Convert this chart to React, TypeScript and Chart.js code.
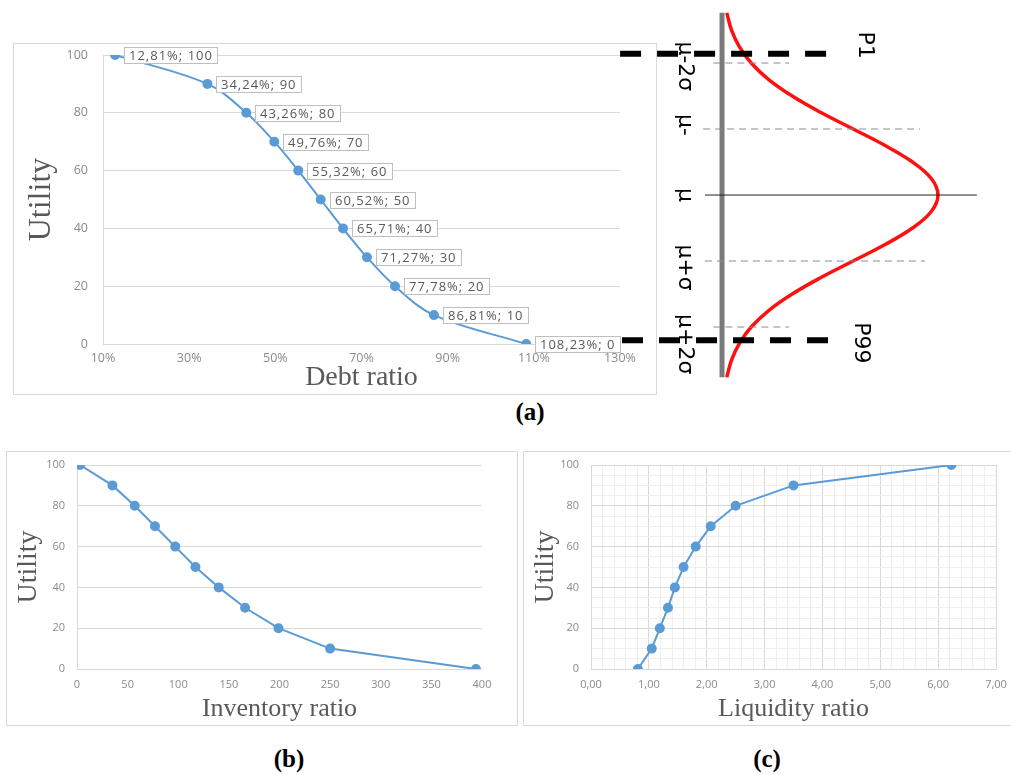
import React, { useEffect, useRef } from 'react';
import { Chart, registerables } from 'chart.js';
Chart.register(...registerables);

// ---------- data ----------
const DEBT_UTILITY = [100, 90, 80, 70, 60, 50, 40, 30, 20, 10, 0];
const DEBT_RATIO = [12.81, 34.24, 43.26, 49.76, 55.32, 60.52, 65.71, 71.27, 77.78, 86.81, 108.23];
const INVENTORY_UTILITY = [100, 90, 80, 70, 60, 50, 40, 30, 20, 10, 0];
const INVENTORY_RATIO = [3, 35, 57, 77, 97, 117, 140, 166, 199, 250, 394];
const LIQUIDITY_UTILITY = [0, 10, 20, 30, 40, 50, 60, 70, 80, 90, 100];
const LIQUIDITY_RATIO = [0.81, 1.05, 1.19, 1.33, 1.45, 1.6, 1.81, 2.07, 2.5, 3.5, 6.23];

// normal curve (position in sigma units, relative density)
const CURVE_Z = [-2.76, -2.5, -2.25, -2, -1.75, -1.5, -1.25, -1, -0.75, -0.5, -0.25, 0, 0.25, 0.5, 0.75, 1, 1.25, 1.5, 1.75, 2, 2.25, 2.5, 2.76];
const CURVE_DENSITY = [0.022, 0.044, 0.08, 0.135, 0.216, 0.325, 0.458, 0.607, 0.755, 0.882, 0.969, 1, 0.969, 0.882, 0.755, 0.607, 0.458, 0.325, 0.216, 0.135, 0.08, 0.044, 0.022];
const AXIS_Z = [-2.76, 2.76];
const REF_Z = [-2, -1, 0, 1, 2];
const REF_X_START = [-0.04, -0.088, -0.079, -0.079, -0.04];
const REF_X_END = [0.31, 0.917, 1.18, 0.94, 0.31];
const PCT_Z = [-2.14, 2.2];
const PCT_X_START = [-0.472, -0.463];
const PCT_X_END = [0.509, 0.523];
const SIGMA_LABELS = ['μ-2σ', 'μ-', 'μ', 'μ+σ', 'μ+2σ'];
const SIGMA_LABEL_Z = [-1.95, -1.06, 0, 1.1, 2.26];
const PCT_LABELS = ['P1', 'P99'];
const PCT_LABEL_Z = [-2.27, 2.24];

const BLUE = '#5b9bd5';
const GRID = '#d9d9d9';
const TICK = '#8a8a8a';
const TITLE = '#595959';
const SANS = '"Open Sans", "Liberation Sans", sans-serif';
const SERIF = '"Liberation Serif", "Times New Roman", serif';

const pts = (xs: number[], ys: number[]) => xs.map((x, i) => ({ x, y: ys[i] }));

const fixY = (w: number) => (s: any) => {
  s.width = w;
  s.paddingTop = 0;
  s.paddingBottom = 0;
  s.paddingLeft = 0;
  s.paddingRight = 0;
};
const fixX = (h: number) => (s: any) => {
  s.height = h;
  s.paddingTop = 0;
  s.paddingBottom = 0;
  s.paddingLeft = 0;
  s.paddingRight = 0;
};

function ChartCanvas({ config, left, top, width, height }: any) {
  const ref = useRef<HTMLCanvasElement>(null);
  useEffect(() => {
    const chart = new Chart(ref.current as HTMLCanvasElement, config());
    return () => chart.destroy();
  }, []);
  return (
    <canvas
      ref={ref}
      width={width}
      height={height}
      style={{ position: 'absolute', left, top, width, height, display: 'block' }}
    />
  );
}

const debtLabelPlugin = {
  id: 'debtLabels',
  afterDatasetsDraw(chart: any) {
    const ctx = chart.ctx;
    const meta = chart.getDatasetMeta(0);
    ctx.save();
    ctx.font = `13px ${SANS}`;
    (ctx as any).letterSpacing = '1px';
    meta.data.forEach((pt: any, i: number) => {
      const text = `${DEBT_RATIO[i].toFixed(2).replace('.', ',')}%; ${DEBT_UTILITY[i]}`;
      const w = Math.round(ctx.measureText(text).width) + 9;
      const x = Math.round(pt.x + 9);
      const y = Math.round(pt.y - 8);
      ctx.fillStyle = '#ffffff';
      ctx.fillRect(x, y, w, 16);
      ctx.strokeStyle = '#bfbfbf';
      ctx.lineWidth = 1;
      ctx.strokeRect(x + 0.5, y + 0.5, w, 16);
      ctx.fillStyle = TITLE;
      ctx.textBaseline = 'middle';
      ctx.textAlign = 'left';
      ctx.fillText(text, x + 5, y + 9);
    });
    ctx.restore();
  },
};

function configA() {
  return {
    type: 'line',
    data: {
      datasets: [
        {
          data: pts(DEBT_RATIO, DEBT_UTILITY),
          borderColor: BLUE,
          backgroundColor: BLUE,
          borderWidth: 2,
          pointRadius: 4,
          pointHoverRadius: 4,
          tension: 0.35,
        },
      ],
    },
    plugins: [debtLabelPlugin],
    options: {
      animation: false,
      responsive: false,
      events: [],
      layout: { padding: { top: 11, right: 36, left: 0, bottom: 0 } },
      plugins: { legend: { display: false }, tooltip: { enabled: false } },
      scales: {
        x: {
          type: 'linear',
          min: 10,
          max: 130,
          afterFit: fixX(50),
          ticks: { stepSize: 20, padding: 7, color: TICK, font: { family: SANS, size: 12.5 }, callback: (v: number) => `${v}%`, maxRotation: 0 },
          grid: { display: false, drawTicks: false },
          border: { display: false },
          title: { display: true, text: 'Debt ratio', color: TITLE, font: { family: SERIF, size: 28 }, padding: { top: 0, bottom: 0 } },
        },
        y: {
          min: 0,
          max: 100,
          afterFit: fixY(89),
          ticks: { stepSize: 20, padding: 15, color: TICK, font: { family: SANS, size: 12.5 } },
          grid: { color: GRID, drawTicks: false },
          border: { display: true, color: GRID },
          title: { display: true, text: 'Utility', color: TITLE, font: { family: SERIF, size: 32 }, padding: { top: 8, bottom: 0 } },
        },
      },
    },
  };
}

function configB() {
  return {
    type: 'line',
    data: {
      datasets: [
        {
          data: pts(INVENTORY_RATIO, INVENTORY_UTILITY),
          borderColor: BLUE,
          backgroundColor: BLUE,
          borderWidth: 2,
          pointRadius: 4,
          pointHoverRadius: 4,
          tension: 0,
        },
      ],
    },
    options: {
      animation: false,
      responsive: false,
      events: [],
      layout: { padding: { top: 13, right: 35, left: 0, bottom: 0 } },
      plugins: { legend: { display: false }, tooltip: { enabled: false } },
      scales: {
        x: {
          type: 'linear',
          min: 0,
          max: 400,
          afterFit: fixX(56),
          ticks: { stepSize: 50, padding: 9, color: TICK, font: { family: SANS, size: 11 }, maxRotation: 0 },
          grid: { display: false, drawTicks: false },
          border: { display: false },
          title: { display: true, text: 'Inventory ratio', color: TITLE, font: { family: SERIF, size: 26 }, padding: { top: 0, bottom: 0 } },
        },
        y: {
          min: 0,
          max: 100,
          afterFit: fixY(70),
          ticks: { stepSize: 20, padding: 12, color: TICK, font: { family: SANS, size: 11 } },
          grid: { color: GRID, drawTicks: false },
          border: { display: true, color: GRID },
          title: { display: true, text: 'Utility', color: TITLE, font: { family: SERIF, size: 28 }, padding: { top: 5, bottom: 0 } },
        },
      },
    },
  };
}

const isInt = (v: number) => Math.abs(v - Math.round(v)) < 1e-6;

function configC() {
  return {
    type: 'line',
    data: {
      datasets: [
        {
          data: pts(LIQUIDITY_RATIO, LIQUIDITY_UTILITY),
          borderColor: BLUE,
          backgroundColor: BLUE,
          borderWidth: 2,
          pointRadius: 4,
          pointHoverRadius: 4,
          tension: 0,
        },
      ],
    },
    options: {
      animation: false,
      responsive: false,
      events: [],
      layout: { padding: { top: 13, right: 15, left: 0, bottom: 0 } },
      plugins: { legend: { display: false }, tooltip: { enabled: false } },
      scales: {
        x: {
          type: 'linear',
          min: 0,
          max: 7,
          afterFit: fixX(56),
          ticks: {
            stepSize: 0.2,
            autoSkip: false,
            padding: 9,
            color: TICK,
            font: { family: SANS, size: 11 },
            maxRotation: 0,
            callback: (v: number) => (isInt(v) ? v.toFixed(2).replace('.', ',') : ''),
          },
          grid: { drawTicks: false, color: (c: any) => (c.tick && isInt(c.tick.value) ? '#d9d9d9' : '#efefef') },
          border: { display: true, color: GRID },
          title: { display: true, text: 'Liquidity ratio', color: TITLE, font: { family: SERIF, size: 26 }, padding: { top: 0, bottom: 0 } },
        },
        y: {
          min: 0,
          max: 100,
          afterFit: fixY(67),
          ticks: {
            stepSize: 5,
            autoSkip: false,
            padding: 12,
            color: TICK,
            font: { family: SANS, size: 11 },
            callback: (v: number) => (v % 20 === 0 ? String(v) : ''),
          },
          grid: { drawTicks: false, color: (c: any) => (c.tick && c.tick.value % 20 === 0 ? '#d9d9d9' : '#efefef') },
          border: { display: true, color: GRID },
          title: { display: true, text: 'Utility', color: TITLE, font: { family: SERIF, size: 28 }, padding: { top: 5, bottom: 0 } },
        },
      },
    },
  };
}

const normalLabelPlugin = {
  id: 'normalLabels',
  afterDraw(chart: any) {
    const ctx = chart.ctx;
    const xs = chart.scales.x;
    const ys = chart.scales.y;
    const drawRot = (text: string, x: number, y: number) => {
      ctx.save();
      ctx.translate(x, y);
      ctx.rotate(Math.PI / 2);
      ctx.textAlign = 'center';
      ctx.textBaseline = 'middle';
      ctx.fillText(text, 0, 0);
      ctx.restore();
    };
    ctx.save();
    ctx.fillStyle = '#000000';
    ctx.font = '22px "DejaVu Sans", sans-serif';
    SIGMA_LABELS.forEach((t, i) => drawRot(t, xs.getPixelForValue(-0.171), ys.getPixelForValue(SIGMA_LABEL_Z[i])));
    PCT_LABELS.forEach((t, i) => drawRot(t, xs.getPixelForValue(i === 0 ? 0.662 : 0.64), ys.getPixelForValue(PCT_LABEL_Z[i])));
    ctx.restore();
  },
};

function configNormal() {
  const datasets: any[] = [];
  PCT_Z.forEach((z, i) => {
    datasets.push({
      data: [{ x: PCT_X_START[i], y: z }, { x: PCT_X_END[i], y: z }],
      borderColor: '#000000',
      borderWidth: 6,
      borderDash: [21, 16],
      pointRadius: 0,
      showLine: true,
    });
  });
  REF_Z.forEach((z, i) => {
    datasets.push({
      data: [{ x: REF_X_START[i], y: z }, { x: REF_X_END[i], y: z }],
      borderColor: z === 0 ? '#222222' : '#8c8c8c',
      borderWidth: 1,
      borderDash: z === 0 ? [] : [7, 5],
      pointRadius: 0,
      showLine: true,
    });
  });
  datasets.push({
    data: pts(CURVE_DENSITY, CURVE_Z),
    borderColor: '#ff1010',
    borderWidth: 3.5,
    pointRadius: 0,
    showLine: true,
    tension: 0.4,
  });
  datasets.push({
    data: [{ x: 0, y: AXIS_Z[0] }, { x: 0, y: AXIS_Z[1] }],
    borderColor: '#7a7a7a',
    borderWidth: 5,
    pointRadius: 0,
    showLine: true,
  });
  return {
    type: 'scatter',
    data: { datasets },
    plugins: [normalLabelPlugin],
    options: {
      animation: false,
      responsive: false,
      events: [],
      layout: { padding: 0 },
      plugins: { legend: { display: false }, tooltip: { enabled: false } },
      scales: {
        x: { type: 'linear', display: false, min: -0.565, max: 1.338 },
        y: { type: 'linear', display: false, min: -2.955, max: 3.03, reverse: true },
      },
    },
  };
}

const boxStyle = (left: number, top: number, width: number, height: number): React.CSSProperties => ({
  position: 'absolute',
  left,
  top,
  width,
  height,
  border: '1px solid #d9d9d9',
  boxSizing: 'border-box',
});

const capStyle = (cx: number, cy: number): React.CSSProperties => ({
  position: 'absolute',
  left: cx - 30,
  top: cy - 15,
  width: 60,
  height: 30,
  lineHeight: '30px',
  textAlign: 'center',
  fontFamily: SERIF,
  fontWeight: 'bold',
  fontSize: 25,
  color: '#000',
});

export default function App() {
  return (
    <div style={{ position: 'absolute', left: 0, top: 0, width: 1011, height: 775, overflow: 'hidden', background: '#fff' }}>
      <div style={boxStyle(13, 43, 644, 352)} />
      <ChartCanvas config={configA} left={14} top={44} width={642} height={350} />
      <ChartCanvas config={configNormal} left={600} top={0} width={411} height={395} />
      <div style={capStyle(530, 412)}>(a)</div>

      <div style={boxStyle(6, 451, 512, 275)} />
      <ChartCanvas config={configB} left={7} top={452} width={510} height={273} />
      <div style={capStyle(289, 759)}>(b)</div>

      <div style={boxStyle(523, 451, 500, 275)} />
      <ChartCanvas config={configC} left={524} top={452} width={487} height={273} />
      <div style={capStyle(767, 759)}>(c)</div>
    </div>
  );
}
